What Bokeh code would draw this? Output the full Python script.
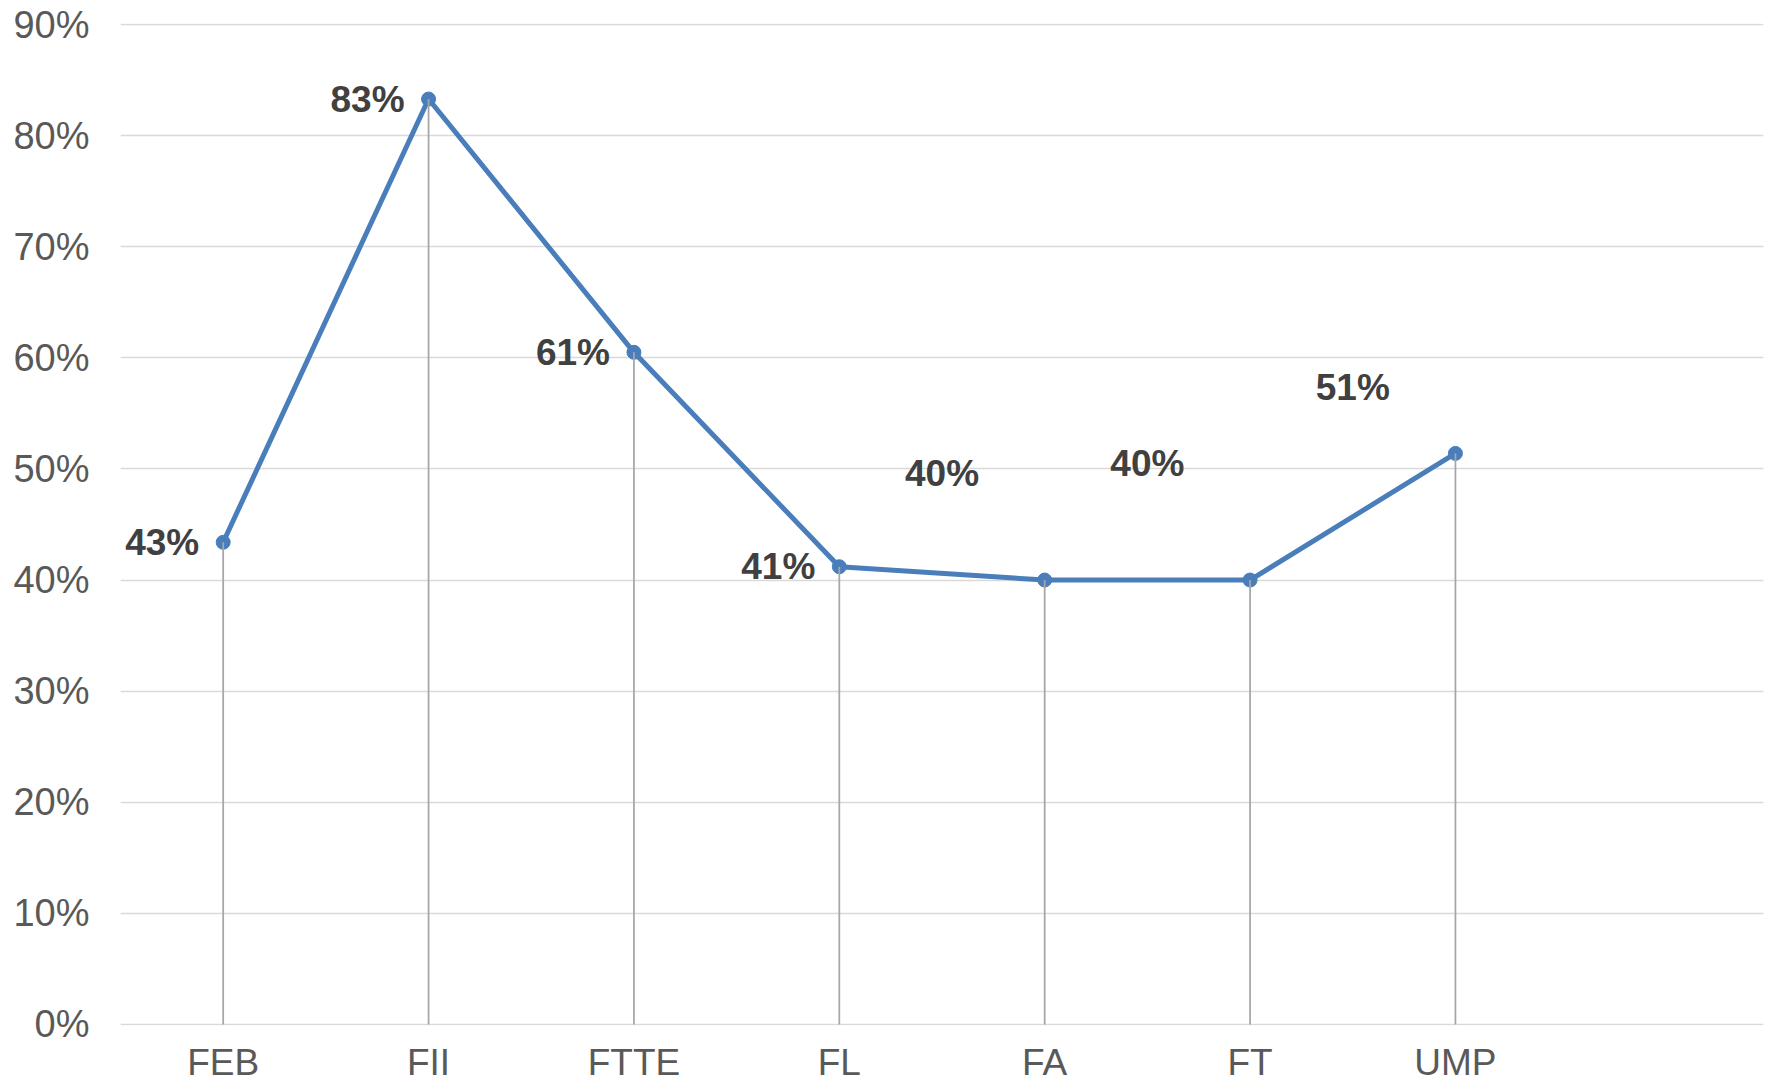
from bokeh.plotting import figure
from bokeh.models import ColumnDataSource, FixedTicker, NumeralTickFormatter
from bokeh.embed import file_html
from bokeh.resources import INLINE
from bokeh.core.properties import value

# ---- data ----
categories = ["FEB", "FII", "FTTE", "FL", "FA", "FT", "UMP"]
values = [0.434, 0.833, 0.605, 0.412, 0.400, 0.400, 0.514]
labels = ["43%", "83%", "61%", "41%", "40%", "40%", "51%"]
y_ticks = [0.0, 0.1, 0.2, 0.3, 0.4, 0.5, 0.6, 0.7, 0.8, 0.9]

# ---- label placement (style) ----
lab_dx = [0, 0, 0, 0, -0.5, -0.5, -0.5]
lab_dy = [0, 0, 0, 0, 0.096, 0.105, 0.059]
lab_px = [-24, -24, -24, -24, 0, 0, 0]
lab_align = ["right", "right", "right", "right", "center", "center", "center"]

xs = list(range(len(categories)))

src = ColumnDataSource(dict(x=xs, y=values, zero=[0] * len(xs)))
lab_src = ColumnDataSource(dict(
    x=[x + d for x, d in zip(xs, lab_dx)],
    y=[v + d for v, d in zip(values, lab_dy)],
    text=labels, xo=lab_px, align=lab_align,
))

p = figure(width=1775, height=1085, output_backend="svg", toolbar_location=None,
           x_range=(-0.5, len(categories) + 0.5), y_range=(-0.001, 0.901),
           min_border_left=120, min_border_right=12, min_border_top=23,
           min_border_bottom=0)
p.outline_line_color = None
p.background_fill_color = "white"
p.border_fill_color = "white"

# grid
p.xgrid.grid_line_color = None
p.ygrid.grid_line_color = "#d9d9d9"
p.ygrid.grid_line_width = 1.5

# axes
p.yaxis.ticker = FixedTicker(ticks=y_ticks)
p.yaxis.formatter = NumeralTickFormatter(format="0%")
p.xaxis.ticker = FixedTicker(ticks=xs)
p.xaxis.major_label_overrides = {i: c for i, c in enumerate(categories)}
for ax in (p.xaxis, p.yaxis):
    ax.axis_line_color = None
    ax.major_tick_line_color = None
    ax.minor_tick_line_color = None
    ax.major_tick_out = 0
    ax.major_tick_in = 0
    ax.minor_tick_out = 0
    ax.major_label_text_font = "Liberation Sans"
    ax.major_label_text_color = "#595959"
p.yaxis.major_label_text_font_size = "38px"
p.xaxis.major_label_text_font_size = "37px"
p.yaxis.major_label_standoff = 31
p.xaxis.major_label_standoff = 16

# series
p.line(x="x", y="y", source=src, line_color="#4a7ebb", line_width=5)
p.scatter(x="x", y="y", source=src, size=14, fill_color="#4a7ebb",
          line_color="#4a7ebb")

# drop lines (drawn above the markers, as in the reference)
p.segment(x0="x", y0="zero", x1="x", y1="y", source=src,
          line_color="#a6a6a6", line_width=1.75)

# data labels
p.text(x="x", y="y", text="text", source=lab_src, x_offset="xo",
       text_align="align", text_baseline="middle",
       text_font=value("Liberation Sans"), text_font_style="bold",
       text_font_size="37px", text_color="#404040")

open("out.html", "w").write(file_html(p, INLINE))
